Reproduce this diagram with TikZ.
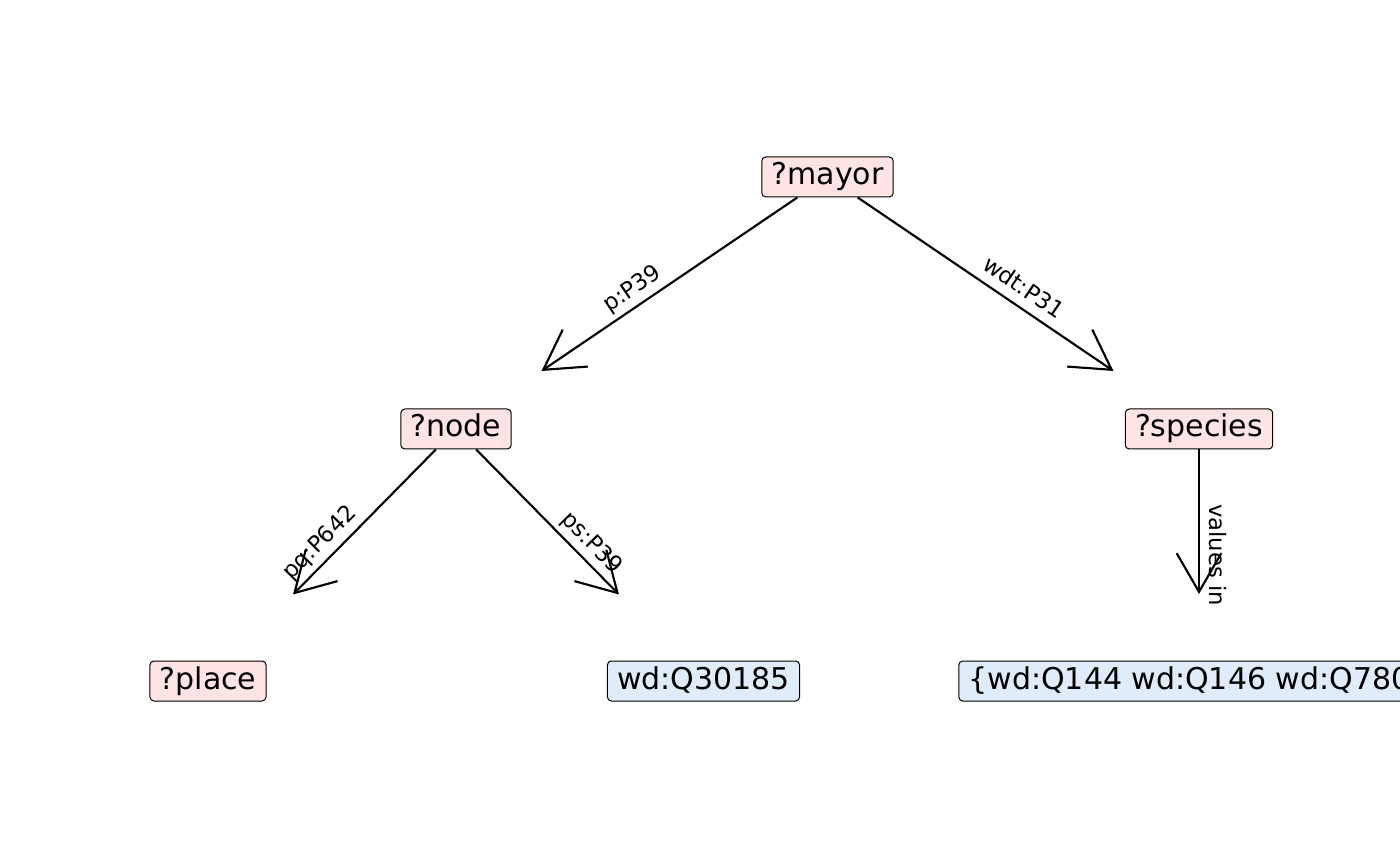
\documentclass[tikz,border=0pt]{standalone}
\usepackage{fontspec}
\setmainfont{DejaVu Sans}
\usetikzlibrary{arrows.meta}
\definecolor{varfill}{RGB}{255,228,230}
\definecolor{constfill}{RGB}{224,236,250}
\begin{document}
\begin{tikzpicture}[x=0.75pt,y=0.75pt,
  box/.style={draw=black, line width=0.75pt, rounded corners=3pt, inner xsep=7.3pt, inner ysep=0pt, minimum height=30pt, text height=16.6pt, text depth=4.6pt, font=\fontsize{22.5}{26}\selectfont},
  var/.style={box, fill=varfill},
  const/.style={box, fill=constfill},
  edge/.style={line width=1.6pt, -{Straight Barb[length=29pt,width=33.5pt]}},
  elabel/.style={midway, sloped, above=3.5pt, inner sep=0pt, text height=12.6pt, text depth=4.2pt, font=\fontsize{17}{20}\selectfont}]
\useasboundingbox (0,0) rectangle (1400,865);
\clip (0,0) rectangle (1400,865);
\node[var] (mayor) at (827.5,688) {?mayor};
\node[var] (node) at (456,436) {?node};
\node[var] (species) at (1199,436) {?species};
\node[var] (place) at (208,184) {?place};
\node[const] (wdq) at (703.5,184) {wd:Q30185};
\node[const] (values) at (1199,184) {\{wd:Q144 wd:Q146 wd:Q780\}};
\coordinate (t1) at (541.5,494);
\coordinate (t2) at (1113.5,494);
\coordinate (t3) at (293,270.5);
\coordinate (t4) at (619,270.5);
\coordinate (t5) at (1199,271);
\draw[edge] (mayor) -- (t1);
\draw[edge] (mayor) -- (t2);
\draw[edge] (node) -- (t3);
\draw[edge] (node) -- (t4);
\draw[edge] (species) -- (t5);
\path (mayor.center) -- (node.center) node[elabel] {p:P39};
\path (mayor.center) -- (species.center) node[elabel] {wdt:P31};
\path (node.center) -- (place.center) node[elabel] {pq:P642};
\path (node.center) -- (wdq.center) node[elabel] {ps:P39};
\path (species.center) -- (values.center) node[elabel] {values in};
\end{tikzpicture}
\end{document}
